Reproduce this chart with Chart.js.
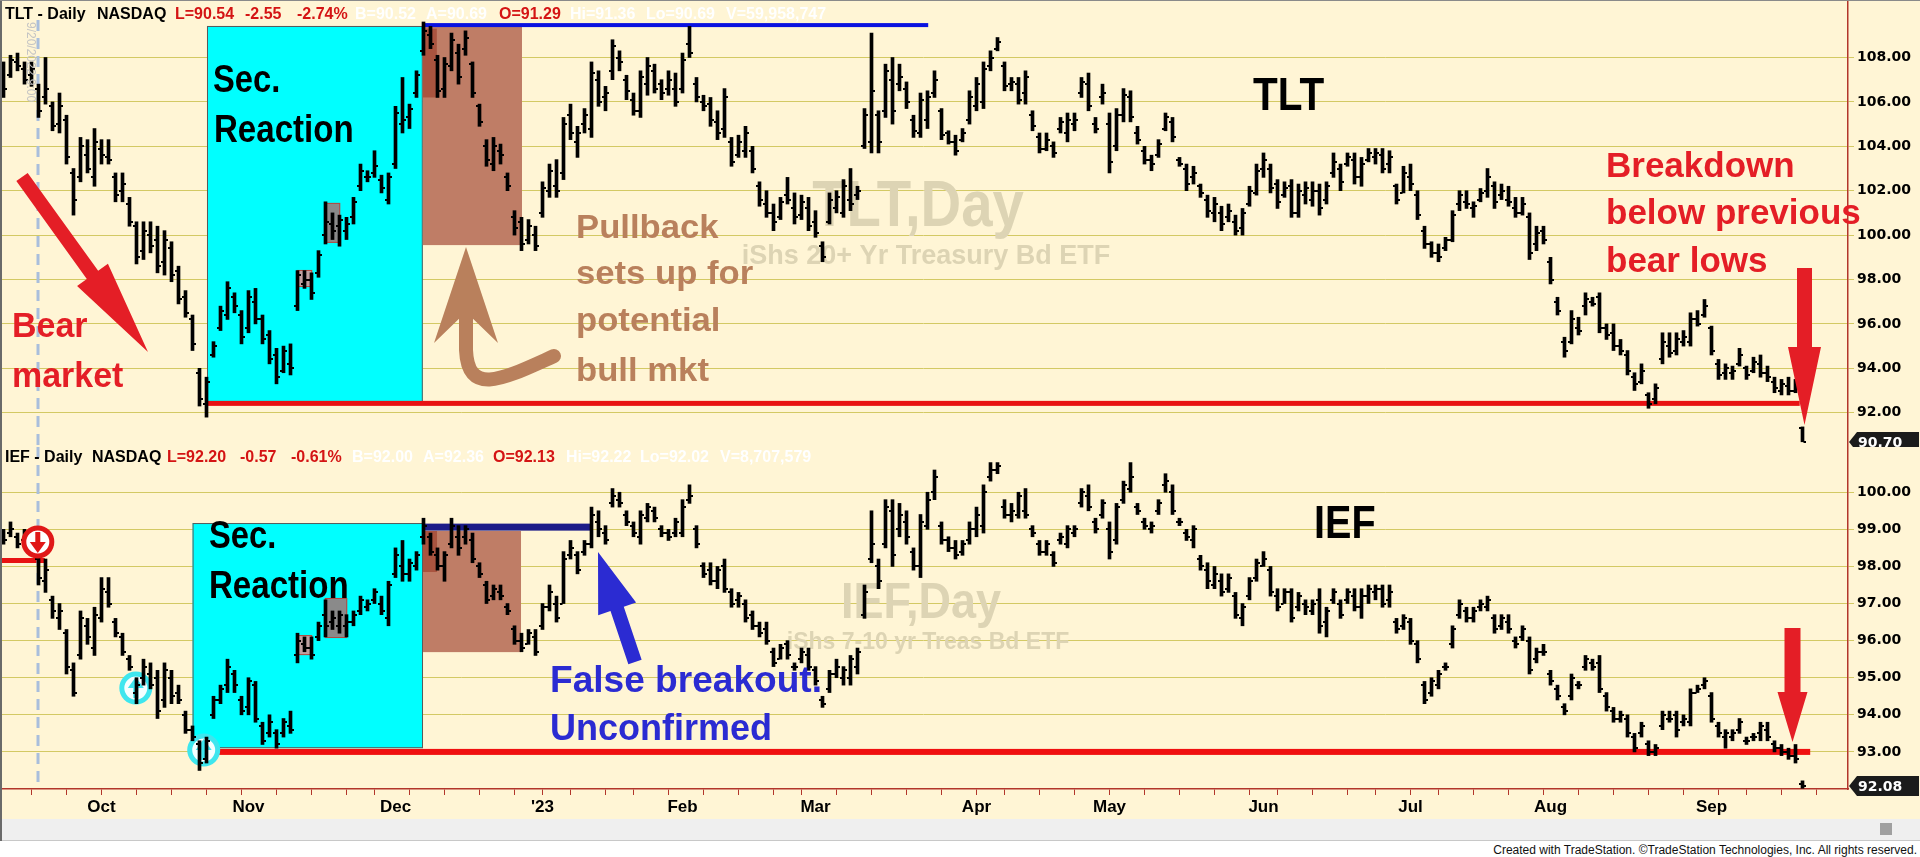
<!DOCTYPE html>
<html>
<head>
<meta charset="utf-8">
<script src="https://cdn.jsdelivr.net/npm/chart.js@4.4.0/dist/chart.umd.min.js"></script>
<style>
    html, body { margin: 0; padding: 0; background: #fff; }
    #frame { position: relative; width: 1920px; height: 857px; overflow: hidden; background: #fff; }
    #plot { position: absolute; left: 0; top: 0; width: 1920px; height: 819px; background: #FFF5D5; }
    #tlt { position: absolute; left: 0; top: 0; }
    #ief { position: absolute; left: 0; top: 447px; }
    #band { position: absolute; left: 0; top: 819px; width: 1920px; height: 21px; background: #EFEFEF; border-bottom: 1px solid #C8C8C8; }
    #knob { position: absolute; left: 1880px; top: 823px; width: 12px; height: 12px; background: #A0A0A0; }
    #edgeL { position: absolute; left: 0; top: 0; width: 2px; height: 841px; background: #6A6A6A; }
    #edgeT { position: absolute; left: 0; top: 0; width: 1920px; height: 1px; background: #8A8A8A; }
    #footer { position: absolute; right: 3px; top: 843px; font: 12px "Liberation Sans", Arial, sans-serif; color: #111; white-space: nowrap; }
</style>
</head>
<body>
<div id="frame">
    <div id="plot"></div>
    <canvas id="tlt" width="1920" height="447"></canvas>
    <canvas id="ief" width="1920" height="372"></canvas>
    <div id="band"></div>
    <div id="knob"></div>
    <div id="edgeL"></div>
    <div id="edgeT"></div>
    <div id="footer">Created with TradeStation. ©TradeStation Technologies, Inc. All rights reserved.</div>
</div>
<script>
// ---- categories ----
const firstDay = '2022-09-13';
const axisLastDay = '2023-09-29';   // axis runs a few empty sessions past the last bar
const marketHolidays = ['2022-11-24', '2022-12-26', '2023-01-02', '2023-01-16', '2023-02-20',
    '2023-04-07', '2023-05-29', '2023-06-19', '2023-07-04', '2023-09-04'];
const monthTickLabels = ['Oct', 'Nov', 'Dec', "'23", 'Feb', 'Mar', 'Apr', 'May', 'Jun', 'Jul', 'Aug', 'Sep'];

// ---- price axes ----
const tltTicks = [92, 94, 96, 98, 100, 102, 104, 106, 108];
const iefTicks = [93, 94, 95, 96, 97, 98, 99, 100];

// ---- TLT daily bars [open, high, low, close] ----
const tltOHLC = [
    [107.4,107.8,106.2,106.6],[107.2,108.1,107.1,107.9],[107.8,108.2,107.4,107.6],[107.5,107.8,106.8,107.0],[107.2,107.8,106.7,107.5],[106.6,106.8,105.3,105.6],
    [106.2,108.0,105.9,106.6],[105.8,106.0,104.7,104.9],[105.0,106.4,104.6,105.8],[105.2,105.4,103.2,103.5],[102.8,103.0,100.9,101.6],[102.6,104.4,102.4,104.0],
    [103.6,104.3,102.8,103.0],[102.6,104.8,102.2,104.2],[103.9,104.3,103.2,103.6],[103.5,104.3,103.2,103.4],[102.6,102.8,101.5,101.8],[102.0,102.8,101.5,102.3],
    [101.4,101.7,100.4,100.6],[100.4,100.6,98.7,99.0],[99.3,100.6,98.9,100.2],[100.0,100.6,99.2,99.5],[99.8,100.4,98.3,98.6],[98.8,100.2,98.2,99.8],
    [99.4,99.7,97.9,98.2],[98.4,98.6,96.9,97.1],[97.2,97.5,96.3,96.5],[96.2,96.4,94.8,95.1],[93.8,94.0,92.3,92.6],[92.4,93.6,91.8,93.4],
    [94.6,95.2,94.5,95.0],[95.8,96.8,95.7,96.6],[96.4,97.9,96.2,97.6],[97.2,97.4,96.5,96.8],[96.4,96.6,95.1,95.4],[95.8,97.5,95.6,97.2],
    [97.0,97.6,96.0,96.2],[96.2,96.4,95.1,95.3],[95.5,95.7,94.2,94.4],[94.6,94.9,93.3,93.6],[93.9,95.0,93.8,94.8],[94.2,95.1,93.7,94.0],
    [96.8,98.4,96.6,98.2],[97.8,98.4,97.6,98.0],[98.0,98.3,97.1,97.4],[98.3,99.3,98.1,99.1],[100.0,101.5,99.6,100.6],[100.5,101.0,99.8,100.2],
    [100.4,100.9,99.5,100.7],[100.2,100.8,99.8,100.5],[100.8,101.7,100.5,101.5],[102.2,103.2,102.0,102.9],[102.6,102.9,102.4,102.6],[102.8,103.8,102.6,103.1],
    [102.5,102.7,101.9,102.1],[101.6,102.8,101.4,102.6],[103.2,105.8,103.0,105.5],[105.0,107.1,104.6,105.2],[105.3,105.9,104.8,105.7],[106.4,107.4,106.2,107.2],
    [108.3,109.6,108.1,109.2],[109.0,109.4,108.4,108.6],[107.9,108.1,106.2,106.5],[106.6,108.0,106.2,107.7],[107.6,109.1,107.4,108.8],[108.2,108.6,106.8,107.1],
    [108.4,109.2,108.1,108.9],[107.7,107.8,106.2,106.4],[105.8,105.9,104.9,105.1],[104.0,104.3,103.1,103.4],[103.2,104.4,102.9,104.0],[103.8,104.1,103.2,103.6],
    [102.6,102.8,102.0,102.2],[100.8,101.1,100.0,100.3],[100.6,100.8,99.3,99.6],[99.8,100.7,99.6,100.4],[100.0,100.4,99.3,99.5],[101.0,102.4,100.8,102.1],
    [102.0,103.2,101.7,102.9],[102.2,103.4,101.7,102.0],[102.8,105.3,102.5,105.0],[105.4,105.9,104.3,104.6],[104.2,104.9,103.5,104.6],[105.0,105.7,104.6,105.4],
    [104.8,107.8,104.4,107.3],[107.0,107.4,105.8,106.0],[106.2,106.7,105.6,106.4],[107.4,108.8,107.0,108.5],[108.0,108.3,107.4,107.8],[107.0,107.2,106.1,106.5],
    [106.1,106.4,105.4,105.6],[105.6,107.4,105.3,107.1],[106.8,108.0,106.3,107.6],[107.4,107.7,106.4,106.6],[106.8,107.0,106.1,106.4],[106.6,107.4,106.3,107.0],
    [106.6,107.3,105.8,106.0],[106.6,108.2,106.4,107.9],[108.6,109.4,108.0,108.2],[106.8,107.1,106.0,106.2],[106.0,106.3,105.6,105.8],[105.9,106.2,104.9,105.2],
    [105.1,105.6,104.3,104.6],[104.8,106.6,104.4,106.2],[104.2,104.4,103.1,103.3],[103.6,104.5,103.5,104.2],[103.8,104.9,103.5,104.6],[103.8,104.0,102.8,103.0],
    [102.2,102.4,101.3,101.6],[101.4,102.0,100.8,101.0],[101.0,101.4,100.2,100.6],[100.8,101.7,100.7,101.5],[101.8,102.6,101.4,101.6],[101.2,101.9,100.5,100.8],
    [100.9,101.8,100.7,101.5],[101.2,101.7,100.2,100.4],[100.6,101.1,99.9,100.1],[99.5,99.7,98.8,99.0],[100.6,101.9,100.5,101.6],[101.2,102.0,101.0,101.7],
    [101.0,102.5,100.8,102.2],[101.6,103.0,101.1,101.4],[101.8,102.2,101.6,102.0],[104.0,105.7,103.9,105.4],[104.2,109.1,103.7,106.5],[105.4,105.6,103.7,104.2],
    [105.6,107.7,105.3,107.4],[107.0,108.0,105.0,105.6],[106.8,107.7,106.5,107.1],[106.6,106.9,105.7,106.0],[105.2,105.4,104.4,104.7],[104.6,106.4,104.4,106.1],
    [105.2,106.5,104.8,106.2],[106.4,107.4,106.2,107.0],[105.6,105.7,104.3,104.5],[104.6,104.7,104.1,104.2],[104.2,104.5,103.6,103.8],[104.3,104.8,104.2,104.6],
    [105.2,106.5,105.0,106.2],[105.8,107.1,105.6,106.8],[106.0,107.8,105.7,107.5],[107.6,108.3,107.4,108.0],[108.4,108.9,108.3,108.7],[107.6,107.8,106.5,106.7],
    [106.8,107.1,106.5,106.9],[106.8,107.1,105.9,106.1],[106.4,107.4,105.9,107.1],[105.4,105.6,104.7,104.9],[104.4,104.6,103.7,103.9],[103.9,104.6,103.8,104.3],
    [104.0,104.2,103.5,103.7],[104.8,105.3,104.6,105.1],[104.6,105.5,104.2,105.2],[105.0,105.5,104.7,105.2],[106.4,107.1,106.2,106.9],[106.8,107.3,105.6,105.8],
    [105.0,105.3,104.6,104.8],[106.2,106.8,105.9,106.4],[105.0,105.5,102.8,103.3],[104.0,105.7,103.8,105.4],[105.4,106.6,105.1,106.3],[106.2,106.5,105.1,105.3],
    [104.6,104.9,104.1,104.3],[103.8,104.0,103.2,103.4],[103.4,103.6,102.9,103.2],[103.6,104.3,103.5,104.1],[104.8,105.5,104.7,105.3],[105.1,105.3,104.2,104.4],
    [103.4,103.5,103.1,103.2],[103.0,103.2,102.0,102.3],[102.6,103.1,102.3,102.8],[102.2,102.3,101.7,101.9],[101.6,101.8,100.8,101.1],[101.0,101.7,100.6,101.4],
    [101.0,101.3,100.2,100.5],[100.8,101.4,100.6,101.1],[100.6,100.9,100.0,100.2],[100.3,101.2,100.0,101.0],[101.4,102.2,101.3,102.0],[101.9,103.2,101.8,102.9],
    [103.0,103.7,102.6,103.4],[103.0,103.2,101.9,102.1],[102.3,102.5,101.2,101.5],[101.8,102.4,101.7,102.1],[102.2,102.5,100.8,101.0],[101.0,102.3,100.8,102.0],
    [101.8,102.4,101.4,102.1],[101.6,102.4,101.3,102.0],[102.0,102.3,100.9,101.2],[101.6,102.4,101.4,102.2],[102.8,103.7,102.6,103.3],[103.0,103.2,102.0,102.4],
    [103.2,103.7,103.1,103.5],[103.4,103.7,102.3,102.6],[102.6,103.5,102.2,103.2],[103.4,103.9,103.3,103.7],[103.5,103.9,103.2,103.7],[103.6,103.9,102.8,103.0],
    [103.2,103.8,102.8,103.5],[102.2,102.3,101.4,101.6],[101.9,103.1,101.9,102.8],[102.6,103.2,102.0,102.3],[101.8,102.0,100.7,100.9],[100.2,100.4,99.4,99.6],
    [99.6,99.7,99.0,99.2],[99.2,99.6,98.8,99.0],[99.4,99.9,99.3,99.8],[99.8,101.1,99.7,100.9],[101.4,102.0,101.1,101.8],[101.5,102.0,101.2,101.4],
    [101.2,101.5,100.8,101.3],[101.6,102.1,101.5,101.9],[102.0,103.0,101.7,102.6],[102.2,102.4,101.2,101.5],[101.8,102.3,101.6,102.0],[101.6,102.2,101.3,101.5],
    [101.2,101.7,100.8,101.0],[101.0,101.7,100.9,101.4],[100.8,101.0,98.9,99.2],[99.6,100.4,99.3,100.1],[100.2,100.4,99.6,99.8],[98.8,99.0,97.8,98.0],
    [97.0,97.2,96.4,96.6],[95.2,95.4,94.5,94.8],[95.2,96.6,95.1,96.2],[95.8,96.3,95.5,95.7],[96.8,97.4,96.4,97.1],[97.0,97.2,96.8,96.9],
    [97.2,97.4,95.6,95.8],[95.8,96.0,95.3,95.5],[95.6,96.0,94.8,95.0],[95.0,95.3,94.6,94.8],[94.6,94.8,93.7,93.9],[93.6,93.8,93.0,93.3],
    [93.4,94.2,93.3,93.9],[92.8,92.9,92.2,92.4],[92.6,93.3,92.4,93.1],[94.4,95.6,94.2,95.2],[95.0,95.6,94.5,94.7],[94.8,95.6,94.6,95.3],
    [95.2,95.7,95.0,95.4],[95.2,96.5,95.0,96.2],[96.2,96.6,95.9,96.0],[96.4,97.1,96.3,96.8],[95.8,95.9,94.6,94.8],[94.2,94.4,93.5,93.7],
    [93.8,94.2,93.5,94.0],[93.8,94.1,93.5,93.9],[94.2,94.9,94.1,94.6],[94.0,94.1,93.5,93.7],[93.9,94.5,93.8,94.3],[94.2,94.6,93.6,93.8],
    [93.8,94.1,93.4,93.6],[93.4,93.6,92.9,93.1],[93.0,93.5,92.8,93.3],[93.2,93.6,92.8,93.0],[93.0,93.5,92.9,93.25],[91.29,91.36,90.69,90.70]
];

// ---- IEF daily bars [open, high, low, close] ----
const iefOHLC = [
    [98.8,99.0,98.6,98.7],[98.9,99.2,98.8,99.0],[98.8,98.9,98.5,98.6],[98.7,99.0,98.7,98.9],[98.7,98.8,98.3,98.4],[98.2,98.3,97.5,97.7],
    [97.6,98.2,97.3,97.9],[97.1,97.2,96.6,96.8],[96.6,97.0,96.3,96.8],[96.2,96.3,95.1,95.3],[95.2,95.4,94.5,94.6],[95.6,96.8,95.5,96.6],
    [96.4,96.6,95.9,96.1],[95.8,96.9,95.6,96.7],[96.6,97.7,96.5,97.4],[97.3,97.7,96.9,97.0],[96.5,96.6,96.1,96.2],[96.1,96.2,95.6,95.7],
    [95.5,95.6,95.2,95.3],[94.6,95.0,94.3,94.8],[95.0,95.5,94.8,95.3],[95.1,95.4,94.7,94.8],[95.0,95.2,93.9,94.1],[94.4,95.4,94.2,95.2],
    [95.0,95.2,94.3,94.5],[94.6,94.8,94.3,94.4],[94.0,94.1,93.5,93.6],[93.6,93.7,93.3,93.4],[93.2,93.3,92.5,92.7],[92.8,93.4,92.7,93.3],
    [94.0,94.5,93.9,94.4],[94.4,94.8,94.3,94.7],[94.8,95.5,94.6,95.3],[95.1,95.2,94.6,94.8],[94.4,94.5,94.0,94.1],[94.2,95.0,94.0,94.9],
    [94.8,94.9,93.8,93.9],[93.7,93.8,93.2,93.3],[93.5,94.0,93.4,93.8],[93.5,93.6,93.1,93.2],[93.5,93.9,93.4,93.8],[93.7,94.1,93.5,93.6],
    [95.6,96.2,95.4,96.0],[95.9,96.1,95.7,95.8],[95.8,96.1,95.5,95.6],[96.1,96.5,96.0,96.4],[96.7,97.1,96.1,96.4],[96.5,96.8,96.3,96.6],
    [96.4,96.8,96.2,96.7],[96.4,96.7,96.1,96.5],[96.5,96.8,96.4,96.7],[96.8,97.2,96.7,97.1],[96.9,97.1,96.8,97.0],[97.1,97.4,97.0,97.3],
    [97.0,97.2,96.7,96.8],[96.6,97.6,96.4,97.5],[97.8,98.5,97.7,98.3],[98.0,98.7,97.6,97.8],[97.8,98.2,97.6,98.1],[98.0,98.4,97.9,98.3],
    [98.8,99.3,98.6,99.1],[98.8,98.9,98.3,98.4],[98.3,98.5,97.9,98.0],[98.0,98.4,97.6,98.3],[98.6,99.3,98.5,99.1],[98.8,99.1,98.3,98.5],
    [98.8,99.1,98.6,99.0],[98.7,98.9,98.1,98.2],[98.0,98.1,97.7,97.8],[97.5,97.6,97.0,97.1],[97.2,97.5,97.1,97.4],[97.3,97.5,97.1,97.2],
    [96.9,97.0,96.7,96.8],[96.3,96.4,95.9,96.0],[96.0,96.2,95.7,95.8],[95.9,96.3,95.9,96.2],[96.1,96.3,95.6,95.7],[96.4,97.0,96.3,96.9],
    [96.9,97.5,96.8,97.3],[97.0,97.2,96.5,96.6],[97.0,98.4,97.0,98.2],[98.3,98.7,98.2,98.5],[98.3,98.4,97.8,97.9],[98.4,98.7,98.3,98.6],
    [98.6,99.6,98.5,99.4],[99.2,99.5,98.8,99.0],[98.9,99.1,98.6,98.7],[99.7,100.1,99.6,99.9],[99.8,100.0,99.6,99.7],[99.4,99.5,99.1,99.2],
    [99.1,99.2,98.8,98.9],[98.8,99.5,98.6,99.4],[99.3,99.7,99.2,99.6],[99.5,99.6,99.2,99.3],[99.0,99.1,98.8,98.9],[98.9,99.0,98.7,98.8],
    [98.9,99.3,98.8,99.2],[98.9,99.8,98.8,99.6],[99.8,100.2,99.7,99.9],[99.0,99.1,98.5,98.6],[98.0,98.1,97.7,97.8],[97.9,98.1,97.5,97.6],
    [97.6,98.0,97.4,97.9],[98.0,98.2,97.3,97.4],[97.3,97.4,96.9,97.0],[97.1,97.3,96.9,97.2],[97.0,97.1,96.5,96.6],[96.7,96.8,96.3,96.4],
    [96.4,96.5,96.1,96.2],[96.3,96.5,95.9,96.0],[95.7,95.8,95.3,95.4],[95.5,95.9,95.5,95.8],[95.9,96.0,95.5,95.6],[95.3,95.4,95.2,95.3],
    [95.5,95.8,95.4,95.7],[95.6,95.8,95.2,95.3],[95.2,95.3,94.8,94.9],[94.4,94.5,94.2,94.3],[94.7,95.2,94.6,95.1],[95.1,95.5,95.0,95.3],
    [95.0,95.3,94.8,95.2],[95.0,95.6,94.8,95.5],[95.3,95.8,95.1,95.7],[96.7,97.5,96.6,97.3],[98.2,99.5,98.1,98.6],[98.0,98.2,97.4,97.6],
    [98.6,99.8,98.5,99.6],[99.5,99.8,98.0,98.3],[99.0,99.7,98.8,99.4],[99.2,99.5,98.6,98.8],[98.4,98.5,97.9,98.0],[98.0,99.4,97.7,99.2],
    [99.1,100.0,99.0,99.8],[100.0,100.6,99.8,100.4],[99.1,99.2,98.6,98.7],[98.7,98.8,98.4,98.5],[98.5,98.7,98.2,98.3],[98.4,98.7,98.3,98.6],
    [98.7,99.2,98.6,99.0],[99.0,99.6,98.8,99.4],[99.1,100.2,98.9,100.0],[100.4,100.8,100.3,100.6],[100.6,100.8,100.5,100.7],[99.6,99.8,99.3,99.4],
    [99.4,99.7,99.2,99.5],[99.4,100.0,99.3,99.9],[99.5,100.1,99.3,99.4],[99.0,99.1,98.8,98.9],[98.6,98.7,98.3,98.4],[98.4,98.7,98.3,98.6],
    [98.3,98.4,98.0,98.1],[98.7,98.9,98.6,98.8],[98.6,99.1,98.5,99.0],[98.9,99.1,98.8,99.0],[99.7,100.1,99.6,100.0],[99.9,100.2,99.5,99.6],
    [99.2,99.3,98.9,99.0],[99.4,99.8,99.3,99.7],[99.0,99.2,98.2,98.4],[98.7,99.7,98.6,99.6],[99.8,100.3,99.7,100.2],[100.1,100.8,100.0,100.4],
    [99.6,99.7,99.4,99.5],[99.2,99.3,99.0,99.1],[99.0,99.2,98.9,99.1],[99.5,99.8,99.4,99.7],[100.2,100.5,100.0,100.3],[100.0,100.2,99.4,99.5],
    [99.2,99.3,99.1,99.2],[98.9,99.0,98.7,98.8],[98.7,99.1,98.5,99.0],[98.2,98.3,97.9,98.0],[97.9,98.1,97.4,97.6],[97.5,98.0,97.4,97.8],
    [97.6,97.8,97.2,97.3],[97.4,97.8,97.3,97.7],[97.2,97.3,96.6,96.7],[96.6,97.0,96.4,96.9],[97.2,97.7,97.1,97.6],[97.7,98.2,97.6,98.1],
    [98.0,98.4,98.0,98.2],[97.9,98.0,97.2,97.3],[97.2,97.4,96.8,96.9],[97.0,97.4,97.0,97.3],[97.3,97.4,96.5,96.6],[96.9,97.3,96.8,97.2],
    [97.0,97.1,96.7,96.9],[96.8,97.1,96.7,97.0],[97.1,97.4,96.2,96.4],[96.5,96.9,96.1,96.8],[97.1,97.4,97.0,97.3],[97.0,97.1,96.6,96.7],
    [97.1,97.4,97.0,97.3],[97.2,97.4,96.8,96.9],[96.9,97.4,96.6,97.2],[97.2,97.5,97.0,97.4],[97.3,97.5,97.1,97.4],[97.4,97.5,96.9,97.0],
    [97.1,97.5,96.9,97.3],[96.5,96.6,96.2,96.3],[96.4,96.7,96.3,96.6],[96.5,96.6,95.9,96.0],[95.9,96.0,95.4,95.5],[94.8,94.9,94.3,94.4],
    [94.6,95.0,94.5,94.9],[94.8,95.2,94.7,95.1],[95.3,95.4,95.2,95.3],[95.9,96.4,95.8,96.3],[96.7,97.1,96.6,97.0],[96.8,96.9,96.5,96.6],
    [96.6,96.9,96.5,96.8],[96.9,97.1,96.8,97.0],[96.9,97.2,96.8,97.1],[96.6,96.7,96.2,96.3],[96.4,96.7,96.3,96.6],[96.5,96.7,96.2,96.3],
    [96.0,96.1,95.8,95.9],[96.1,96.4,96.0,96.3],[96.0,96.1,95.1,95.2],[95.5,95.8,95.4,95.7],[95.7,95.9,95.6,95.7],[95.1,95.2,94.8,94.9],
    [94.7,94.8,94.4,94.5],[94.2,94.3,94.0,94.1],[94.5,95.1,94.4,95.0],[94.8,94.9,94.7,94.8],[95.3,95.6,95.2,95.5],[95.4,95.5,95.2,95.3],
    [95.4,95.6,94.6,94.7],[94.5,94.6,94.1,94.2],[94.1,94.2,93.8,93.9],[93.9,94.1,93.8,94.0],[93.9,94.0,93.4,93.5],[93.4,93.5,93.0,93.1],
    [93.5,93.8,93.4,93.7],[93.2,93.3,92.9,93.0],[93.0,93.2,92.9,93.1],[93.7,94.1,93.6,94.0],[93.9,94.1,93.8,93.9],[94.0,94.1,93.4,93.6],
    [93.8,94.0,93.7,93.9],[93.8,94.7,93.7,94.6],[94.6,94.8,94.6,94.7],[94.8,95.0,94.7,94.9],[94.5,94.6,93.8,93.9],[93.7,93.8,93.4,93.5],
    [93.4,93.6,93.1,93.5],[93.4,93.6,93.3,93.5],[93.6,93.9,93.5,93.8],[93.3,93.4,93.2,93.3],[93.4,93.5,93.3,93.4],[93.5,93.8,93.3,93.7],
    [93.6,93.8,93.3,93.4],[93.2,93.3,93.0,93.1],[93.1,93.2,92.9,93.0],[93.0,93.1,92.8,92.9],[92.9,93.2,92.7,92.8],[92.13,92.22,92.02,92.08]
];

// ---- look ----
const FONT = '"Liberation Sans", Arial, sans-serif';
const AXIS_FONT = '"DejaVu Sans", Verdana, sans-serif';
const GRID = '#D3C964';
const AXIS_RED = '#B2352B';
const RED = '#E41E26';
const QUOTE_RED = '#D41414';
const QUOTE_WHITE = '#FFFFFF';

// build the session calendar
function sessionDays() {
    let days = [];
    let d = new Date(firstDay + 'T00:00:00Z');
    let end = new Date(axisLastDay + 'T00:00:00Z');
    while (d <= end) {
        let iso = d.toISOString().slice(0, 10);
        let dow = d.getUTCDay();
        if (dow !== 0 && dow !== 6 && !marketHolidays.includes(iso)) {
            days.push(iso);
        }
        d.setUTCDate(d.getUTCDate() + 1);
    }
    return days;
}
const days = sessionDays();
const monthLabelAt = {};
const weekStart = new Set();
let m = 0;
for (let i = 1; i < days.length; i++) {
    if (days[i].slice(5, 7) !== days[i - 1].slice(5, 7)) {
        monthLabelAt[i] = monthTickLabels[m++];
    }
    let a = new Date(days[i - 1] + 'T00:00:00Z').getUTCDay();
    let b = new Date(days[i] + 'T00:00:00Z').getUTCDay();
    if (b <= a) weekStart.add(i);
}

// helpers working in data units
function xAt(chart, i) {
    const s = chart.scales.x;
    const step = s.getPixelForValue(1) - s.getPixelForValue(0);
    return s.getPixelForValue(0) + i * step;
}
function yAt(chart, p) {
    return chart.scales.y.getPixelForValue(p);
}
function box(chart, i0, i1, p0, p1, fill, stroke) {
    const ctx = chart.ctx;
    const x0 = xAt(chart, i0), x1 = xAt(chart, i1);
    const y0 = yAt(chart, p1), y1 = yAt(chart, p0);
    ctx.fillStyle = fill;
    ctx.fillRect(x0, y0, x1 - x0, y1 - y0);
    if (stroke) {
        ctx.strokeStyle = stroke;
        ctx.lineWidth = 1;
        ctx.strokeRect(x0 + 0.5, y0 + 0.5, x1 - x0 - 1, y1 - y0 - 1);
    }
}
function hline(chart, i0, i1, p, w, color) {
    const ctx = chart.ctx;
    const y = yAt(chart, p);
    ctx.fillStyle = color;
    ctx.fillRect(xAt(chart, i0), y - w / 2, xAt(chart, i1) - xAt(chart, i0), w);
}
function vdash(chart, i, top, bottom) {
    const ctx = chart.ctx;
    const x = xAt(chart, i);
    ctx.save();
    ctx.strokeStyle = '#A9BEDC';
    ctx.lineWidth = 3;
    ctx.setLineDash([11, 7]);
    ctx.beginPath();
    ctx.moveTo(x, top);
    ctx.lineTo(x, bottom);
    ctx.stroke();
    ctx.restore();
}
function text(ctx, str, x, y, size, color, sx, align, weight) {
    ctx.save();
    ctx.font = (weight || 'bold') + ' ' + size + 'px ' + FONT;
    ctx.fillStyle = color;
    ctx.textAlign = align || 'left';
    ctx.textBaseline = 'alphabetic';
    ctx.translate(x, y);
    ctx.scale(sx || 1, 1);
    ctx.fillText(str, 0, 0);
    ctx.restore();
}
function arrow(ctx, x0, y0, x1, y1, shaft, headLen, headW, color) {
    const dx = x1 - x0, dy = y1 - y0, len = Math.hypot(dx, dy);
    const ux = dx / len, uy = dy / len, nx = -uy, ny = ux;
    const bx = x1 - ux * headLen, by = y1 - uy * headLen;
    ctx.beginPath();
    ctx.moveTo(x0 + nx * shaft / 2, y0 + ny * shaft / 2);
    ctx.lineTo(bx + nx * shaft / 2, by + ny * shaft / 2);
    ctx.lineTo(bx + nx * headW / 2, by + ny * headW / 2);
    ctx.lineTo(x1, y1);
    ctx.lineTo(bx - nx * headW / 2, by - ny * headW / 2);
    ctx.lineTo(bx - nx * shaft / 2, by - ny * shaft / 2);
    ctx.lineTo(x0 - nx * shaft / 2, y0 - ny * shaft / 2);
    ctx.closePath();
    ctx.fillStyle = color;
    ctx.fill();
}
function badge(chart, i, p, color, up) {
    const ctx = chart.ctx;
    const x = xAt(chart, i), y = yAt(chart, p);
    const d = up ? -1 : 1;
    ctx.save();
    ctx.beginPath();
    ctx.arc(x, y, 14, 0, Math.PI * 2);
    ctx.fillStyle = up ? '#F4FFFF' : '#FFFFFF';
    ctx.fill();
    ctx.lineWidth = 5;
    ctx.strokeStyle = color;
    ctx.stroke();
    ctx.fillStyle = color;
    ctx.beginPath();
    ctx.moveTo(x - 2.5, y - d * 10);
    ctx.lineTo(x + 2.5, y - d * 10);
    ctx.lineTo(x + 2.5, y);
    ctx.lineTo(x + 8, y);
    ctx.lineTo(x, y + d * 11);
    ctx.lineTo(x - 8, y);
    ctx.lineTo(x - 2.5, y);
    ctx.closePath();
    ctx.fill();
    ctx.restore();
}
function priceFlag(chart, p, str) {
    const ctx = chart.ctx;
    const y = Math.round(yAt(chart, p));
    ctx.save();
    ctx.fillStyle = '#1B1B1B';
    ctx.beginPath();
    ctx.moveTo(1849, y);
    ctx.lineTo(1857, y - 10);
    ctx.lineTo(1919, y - 10);
    ctx.lineTo(1919, y + 10);
    ctx.lineTo(1857, y + 10);
    ctx.closePath();
    ctx.fill();
    ctx.font = 'bold 14px ' + AXIS_FONT;
    ctx.fillStyle = '#FFFFFF';
    ctx.textBaseline = 'middle';
    ctx.fillText(str, 1858, y + 1);
    ctx.restore();
}
function header(ctx, y, parts) {
    for (const [str, x, color] of parts) {
        text(ctx, str, x, y, 16, color, 1);
    }
}

// open/close ticks on each bar
const ohlcTicks = {
    id: 'ohlcTicks',
    afterDatasetsDraw(chart, args, opts) {
        const ctx = chart.ctx;
        const rows = opts.rows;
        const meta = chart.getDatasetMeta(0);
        ctx.save();
        ctx.strokeStyle = '#000';
        ctx.lineWidth = 2;
        ctx.beginPath();
        meta.data.forEach((bar, i) => {
            const r = rows[i];
            if (!r) return;
            const yo = Math.round(yAt(chart, r[0]));
            const yc = Math.round(yAt(chart, r[3]));
            ctx.moveTo(bar.x - 3.5, yo);
            ctx.lineTo(bar.x - 1, yo);
            ctx.moveTo(bar.x + 1, yc);
            ctx.lineTo(bar.x + 3.5, yc);
        });
        ctx.stroke();
        ctx.restore();
    }
};

// TLT panel decorations
const tltDecor = {
    id: 'tltDecor',
    beforeDatasetsDraw(chart) {
        const ctx = chart.ctx;
        text(ctx, 'TLT,Day', 918, 226, 64, '#DDD4B4', 0.88, 'center');
        text(ctx, 'iShs 20+ Yr Treasury Bd ETF', 926, 264, 27, '#DDD4B4', 1, 'center');
        box(chart, 29.07, 59.9, 92.45, 109.42, '#00FFFF', '#5A5A5A');
        box(chart, 59.9, 74.07, 99.55, 109.42, '#BF7D66');
        box(chart, 59.9, 61.9, 106.2, 109.3, '#A9543F');
        box(chart, 45.9, 48.1, 99.65, 101.45, '#8A8A8A', '#B04A40');
        box(chart, 41.9, 44.1, 97.66, 98.43, '#BFA0A0', '#B04A40');
        hline(chart, 29.07, 256.6, 92.42, 5, '#E81212');
        hline(chart, 59.9, 132.1, 109.46, 4, '#0A12E0');
        vdash(chart, 4.93, 20, 447);
    },
    afterDraw(chart) {
        const ctx = chart.ctx;
        header(ctx, 19, [
            ['TLT - Daily', 5, '#000'], ['NASDAQ', 97, '#000'],
            ['L=90.54', 175, QUOTE_RED], ['-2.55', 245, QUOTE_RED], ['-2.74%', 297, QUOTE_RED],
            ['B=90.52', 355, QUOTE_WHITE], ['A=90.69', 426, QUOTE_WHITE],
            ['O=91.29', 499, QUOTE_RED],
            ['Hi=91.36', 570, QUOTE_WHITE], ['Lo=90.69', 646, QUOTE_WHITE], ['V=59,958,747', 726, QUOTE_WHITE]
        ]);
        // session marker date
        ctx.save();
        ctx.translate(27, 22);
        ctx.rotate(Math.PI / 2);
        ctx.font = '12px ' + FONT;
        ctx.fillStyle = '#C4C4C4';
        ctx.fillText('9/20/2022 9:00', 0, 0);
        ctx.restore();

        text(ctx, 'Sec.', 213, 92, 38, '#000', 0.86);
        text(ctx, 'Reaction', 214, 142, 38, '#000', 0.87);

        text(ctx, 'Bear', 12, 337, 35, RED, 0.97);
        text(ctx, 'market', 12, 387, 35, RED, 0.97);
        arrow(ctx, 22, 177, 148, 352, 14, 95, 38, RED);

        const brown = '#B9805C';
        text(ctx, 'Pullback', 576, 238, 34, brown, 1.02);
        text(ctx, 'sets up for', 576, 284, 34, brown, 1.02);
        text(ctx, 'potential', 576, 331, 34, brown, 1.02);
        text(ctx, 'bull mkt', 576, 381, 34, brown, 1.02);
        ctx.save();
        ctx.strokeStyle = brown;
        ctx.lineWidth = 14;
        ctx.lineCap = 'round';
        ctx.beginPath();
        ctx.moveTo(554, 356);
        ctx.bezierCurveTo(505, 378, 468, 398, 466, 350);
        ctx.lineTo(466, 318);
        ctx.stroke();
        ctx.fillStyle = brown;
        ctx.beginPath();
        ctx.moveTo(466, 247);
        ctx.lineTo(498, 343);
        ctx.lineTo(466, 312);
        ctx.lineTo(434, 343);
        ctx.closePath();
        ctx.fill();
        ctx.restore();

        text(ctx, 'TLT', 1253, 110, 46, '#000', 0.88);

        text(ctx, 'Breakdown', 1606, 177, 35, RED, 1);
        text(ctx, 'below previous', 1606, 224, 35, RED, 1);
        text(ctx, 'bear lows', 1606, 272, 35, RED, 1);
        arrow(ctx, 1804.5, 268, 1804.5, 425, 15, 78, 33, RED);

        priceFlag(chart, 90.70, '90.70');
    }
};

// IEF panel decorations
const iefDecor = {
    id: 'iefDecor',
    beforeDatasetsDraw(chart) {
        const ctx = chart.ctx;
        text(ctx, 'IEF,Day', 921, 171, 50, '#DDD4B4', 0.9, 'center');
        text(ctx, 'iShs 7-10 yr Treas Bd ETF', 928, 202, 23, '#DDD4B4', 1, 'center');
        box(chart, 27.01, 59.93, 93.1, 99.17, '#00FFFF', '#5A5A5A');
        box(chart, 59.93, 73.93, 95.69, 98.955, '#BF7D66');
        box(chart, 59.93, 61.93, 97.85, 98.955, '#A9543F');
        box(chart, 45.9, 49.1, 96.07, 97.15, '#8A8A8A', '#B04A40');
        box(chart, 41.9, 44.1, 95.61, 96.15, '#BFA0A0', '#B04A40');
        hline(chart, 59.93, 83.93, 99.06, 7, '#1C1C88');
        hline(chart, 30.8, 258.1, 93.0, 6, '#F01010');
        hline(chart, -0.6, 5.9, 98.16, 5, '#E81212');
        vdash(chart, 4.93, 0, 342);
        badge(chart, 18.9, 94.72, '#3EE6EE', true);
        badge(chart, 28.6, 93.05, '#3EE6EE', true);
    },
    afterDraw(chart) {
        const ctx = chart.ctx;
        badge(chart, 4.9, 98.66, '#E01818', false);
        header(ctx, 15, [
            ['IEF - Daily', 5, '#000'], ['NASDAQ', 92, '#000'],
            ['L=92.20', 167, QUOTE_RED], ['-0.57', 240, QUOTE_RED], ['-0.61%', 291, QUOTE_RED],
            ['B=92.00', 352, QUOTE_WHITE], ['A=92.36', 423, QUOTE_WHITE],
            ['O=92.13', 493, QUOTE_RED],
            ['Hi=92.22', 566, QUOTE_WHITE], ['Lo=92.02', 640, QUOTE_WHITE], ['V=8,707,579', 720, QUOTE_WHITE]
        ]);
        text(ctx, 'Sec.', 209, 101, 38, '#000', 0.86);
        text(ctx, 'Reaction', 209, 151, 38, '#000', 0.87);
        text(ctx, 'IEF', 1314, 91, 46, '#000', 0.86);

        const blue = '#2B2BD2';
        text(ctx, 'False breakout.', 550, 245, 36, blue, 1.03);
        text(ctx, 'Unconfirmed', 550, 293, 36, blue, 1.0);
        arrow(ctx, 635, 215, 598, 105, 14, 60, 40, blue);

        arrow(ctx, 1792.5, 181, 1792.5, 295, 16, 50, 30, RED);

        priceFlag(chart, 92.08, '92.08');
    }
};

function yAxis(min, max, ticks) {
    return {
        position: 'right',
        min: min,
        max: max,
        afterBuildTicks: (s) => { s.ticks = ticks.map(v => ({ value: v })); },
        afterFit: (s) => { s.width = 72; s.paddingTop = 0; s.paddingBottom = 0; },
        ticks: {
            color: '#000',
            padding: 3,
            font: { family: AXIS_FONT, size: 14, weight: 'bold' },
            callback: (v) => Number(v).toFixed(2)
        },
        grid: { color: GRID, lineWidth: 1, tickLength: 6, tickColor: GRID },
        border: { color: AXIS_RED, width: 1.5 }
    };
}

function barData(rows) {
    return rows.map(r => [r[2], r[1]]);
}

Chart.defaults.font.family = FONT;

new Chart(document.getElementById('tlt'), {
    type: 'bar',
    data: {
        labels: days,
        datasets: [{
            label: 'TLT',
            data: barData(tltOHLC),
            backgroundColor: '#000',
            borderWidth: 0,
            barThickness: 3
        }]
    },
    options: {
        responsive: false,
        animation: false,
        devicePixelRatio: 1,
        layout: { padding: { top: 2, left: 0, right: 0, bottom: 1 } },
        plugins: { legend: { display: false }, tooltip: { enabled: false }, ohlcTicks: { rows: tltOHLC } },
        scales: {
            x: { type: 'category', display: false },
            y: yAxis(90.5, 110.5, tltTicks)
        }
    },
    plugins: [tltDecor, ohlcTicks]
});

new Chart(document.getElementById('ief'), {
    type: 'bar',
    data: {
        labels: days,
        datasets: [{
            label: 'IEF',
            data: barData(iefOHLC),
            backgroundColor: '#000',
            borderWidth: 0,
            barThickness: 3
        }]
    },
    options: {
        responsive: false,
        animation: false,
        devicePixelRatio: 1,
        layout: { padding: 0 },
        plugins: { legend: { display: false }, tooltip: { enabled: false }, ohlcTicks: { rows: iefOHLC } },
        scales: {
            x: {
                type: 'category',
                afterFit: (s) => { s.height = 30; s.paddingLeft = 0; s.paddingRight = 0; },
                ticks: {
                    autoSkip: false,
                    maxRotation: 0,
                    minRotation: 0,
                    padding: 2,
                    color: '#000',
                    font: { family: FONT, size: 17, weight: 'bold' },
                    callback: (v, i) => monthLabelAt[i] || ''
                },
                grid: {
                    offset: false,
                    drawOnChartArea: false,
                    drawTicks: true,
                    tickLength: 6,
                    tickColor: (c) => (weekStart.has(c.index) ? AXIS_RED : 'rgba(0,0,0,0)')
                },
                border: { color: AXIS_RED, width: 1.5 }
            },
            y: yAxis(92.0, 101.22, iefTicks)
        }
    },
    plugins: [iefDecor, ohlcTicks]
});
</script>
</body>
</html>
